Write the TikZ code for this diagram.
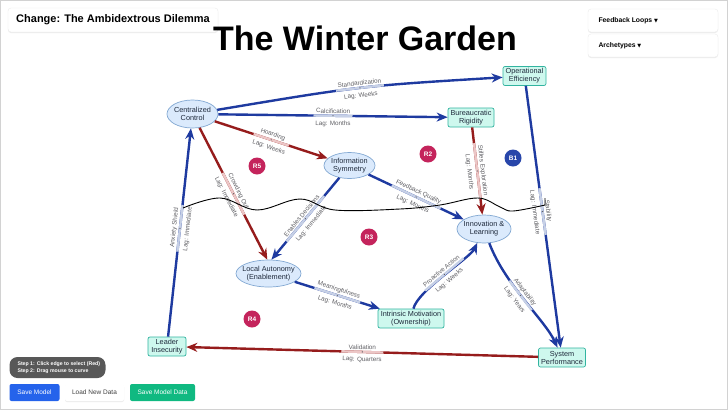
\documentclass[tikz,border=0pt]{standalone}
\usepackage{fontspec}
\setmainfont{Liberation Sans}
\newfontfamily\symfont{DejaVu Sans}
\usetikzlibrary{shapes.geometric,arrows.meta,shadows}

\definecolor{eblue}{RGB}{30,58,160}
\definecolor{ered}{RGB}{150,28,28}
\definecolor{pblue}{RGB}{198,208,230}
\definecolor{pred}{RGB}{236,198,198}
\definecolor{ellfill}{RGB}{219,234,252}
\definecolor{elldraw}{RGB}{130,168,210}
\definecolor{recfill}{RGB}{206,248,238}
\definecolor{recdraw}{RGB}{50,180,160}
\definecolor{lblgray}{RGB}{95,95,100}
\definecolor{ntext}{RGB}{30,41,59}
\definecolor{rbadge}{RGB}{196,36,92}
\definecolor{bbadge}{RGB}{40,70,170}
\definecolor{btnblue}{RGB}{37,99,235}
\definecolor{btngreen}{RGB}{16,185,129}
\definecolor{pillgray}{RGB}{88,88,88}

\begin{document}
\begin{tikzpicture}[x=1pt,y=-1pt,
  ell/.style={ellipse, draw=elldraw, fill=ellfill, line width=0.7pt, inner sep=0pt},
  ntxt/.style={font=\fontsize{7.3}{8}\selectfont, text=ntext, align=center},
  rec/.style={rectangle, rounded corners=2pt, draw=recdraw, fill=recfill, line width=0.7pt, inner sep=0.5pt, font=\fontsize{7.3}{8}\selectfont, text=ntext, align=center},
  bedge/.style={draw=eblue, line width=2.4pt, -{Stealth[length=11pt,width=9pt]}},
  redge/.style={draw=ered, line width=2.4pt, -{Stealth[length=11pt,width=9pt]}},
  bseg/.style={sloped, fill=pblue, inner sep=0pt, minimum height=2.4pt, minimum width=#1},
  rseg/.style={sloped, fill=pred, inner sep=0pt, minimum height=2.4pt, minimum width=#1},
  ldot/.style={sloped, circle, fill=lblgray, inner sep=0pt, minimum size=1.4pt},
  ttl/.style={sloped, above=1pt, inner sep=0.3pt, font=\fontsize{6.3}{7}\selectfont, text=lblgray},
  lag/.style={sloped, below=3.5pt, inner sep=0.3pt, font=\fontsize{6.3}{7}\selectfont, text=lblgray},
  badge/.style={circle, fill=#1, minimum size=17pt, inner sep=0pt, text=white, font=\bfseries\fontsize{6.5}{7}\selectfont},
  uibox/.style={rectangle, rounded corners=3pt, fill=white, draw=gray!15, drop shadow={opacity=0.15, shadow xshift=0pt, shadow yshift=-1pt}},
  btn/.style={rectangle, rounded corners=2pt, minimum height=17pt, inner sep=0pt, font=\fontsize{6.5}{7}\selectfont}
]
\useasboundingbox (0,0) rectangle (728,410);
\fill[white] (0,0) rectangle (728,410);
\draw[gray!35, line width=0.8pt] (0.5,0.5) rectangle (727.5,409.5);

% ---------- UI elements ----------
\node[uibox, minimum width=210pt, minimum height=24pt, font=\bfseries\fontsize{11}{13}\selectfont] (chg) at (113,20) {Change: The Ambidextrous Dilemma};
\node[font=\bfseries\fontsize{34}{40}\selectfont, anchor=base] (title) at (365,50) {The Winter Garden};
\node[uibox, minimum width=130pt, minimum height=23pt] (fbl) at (653,20.5) {};
\node[anchor=west, font=\bfseries\fontsize{6.8}{8}\selectfont] (fblt) at (595,20.5) {Feedback Loops {\symfont\fontsize{5}{6}\selectfont▼}};
\node[uibox, minimum width=130pt, minimum height=23pt] (arc) at (653,45.5) {};
\node[anchor=west, font=\bfseries\fontsize{6.8}{8}\selectfont] (arct) at (595,45.5) {Archetypes {\symfont\fontsize{5}{6}\selectfont▼}};

\node[rectangle, rounded corners=8pt, fill=pillgray, minimum width=96pt, minimum height=21pt] (pill) at (57.5,367.5) {};
\node[anchor=west, text=white, align=left, font=\bfseries\fontsize{5.2}{7}\selectfont] (pillt) at (14,367.5) {Step 1: Click edge to select (Red)\\Step 2: Drag mouse to curve};

\node[btn, fill=btnblue, text=white, minimum width=50pt] (b1) at (34.5,392.5) {Save Model};
\node[btn, fill=white, text=black!75, minimum width=59pt, drop shadow={opacity=0.15, shadow xshift=0pt, shadow yshift=-1pt}] (b2) at (94.5,392.5) {Load New Data};
\node[btn, fill=btngreen, text=white, minimum width=65pt] (b3) at (162.5,392.5) {Save Model Data};

% ---------- model nodes ----------
\node[ell, minimum width=51pt, minimum height=28pt, label={[ntxt]center:{Centralized\\Control}}] (CC) at (192.5,114) {};
\node[ell, minimum width=51pt, minimum height=26pt, label={[ntxt]center:{Information\\Symmetry}}] (IS) at (349.5,165.5) {};
\node[ell, minimum width=65pt, minimum height=27pt, label={[ntxt]center:{Local Autonomy\\(Enablement)}}] (LA) at (268.5,273.5) {};
\node[ell, minimum width=54pt, minimum height=28pt, label={[ntxt]center:{Innovation \&\\Learning}}] (IL) at (484,229) {};

\node[rec, minimum width=43pt, minimum height=19pt] (OE) at (524.5,76) {Operational\\Efficiency};
\node[rec, minimum width=46pt, minimum height=19pt] (BR) at (471,117.5) {Bureaucratic\\Rigidity};
\node[rec, minimum width=66pt, minimum height=19pt] (IM) at (411,318.5) {Intrinsic Motivation\\(Ownership)};
\node[rec, minimum width=38pt, minimum height=19pt] (LI) at (167,346.5) {Leader\\Insecurity};
\node[rec, minimum width=47pt, minimum height=19pt] (SP) at (562,357.5) {System\\Performance};

% ---------- loop badges ----------
\node[badge=rbadge] (R5) at (257,166) {R5};
\node[badge=rbadge] (R2) at (428,154) {R2};
\node[badge=bbadge] (B1) at (513,158) {B1};
\node[badge=rbadge] (R3) at (369,237) {R3};
\node[badge=rbadge] (R4) at (252,319) {R4};

% ---------- edges ----------
\draw[bedge] (CC) .. controls (360,86) .. (OE)
  node[midway,bseg=48pt]{} node[midway,ldot]{}
  node[midway,ttl]{Standardization} node[midway,lag]{Lag: Weeks};
\draw[bedge] (CC) -- (BR)
  node[midway,bseg=39pt]{} node[midway,ldot]{}
  node[midway,ttl]{Calcification} node[midway,lag]{Lag: Months};
\draw[redge] (CC) -- (IS)
  node[midway,rseg=37pt]{} node[midway,ldot]{}
  node[midway,ttl]{Hoarding} node[midway,lag]{Lag: Weeks};
\draw[redge] (CC) -- (LA.95)
  node[midway,rseg=47pt]{} node[midway,ldot]{}
  node[midway,ttl]{Crowding Out} node[midway,lag]{Lag: Immediate};
\draw[bedge] (IS) -- (LA.78)
  node[midway,bseg=59pt]{} node[midway,ldot]{}
  node[midway,ttl]{Enables Decisions} node[midway,lag]{Lag: Immediate};
\draw[bedge] (IS) -- (IL)
  node[midway,bseg=54pt]{} node[midway,ldot]{}
  node[midway,ttl]{Feedback Quality} node[midway,lag]{Lag: Months};
\draw[redge] (BR) -- (IL)
  node[midway,rseg=56pt]{} node[midway,ldot]{}
  node[midway,ttl]{Stifles Exploration} node[midway,lag]{Lag: Months};
\draw[bedge] (OE) -- (SP)
  node[pos=0.48,bseg=47pt]{} node[pos=0.48,ldot]{}
  node[pos=0.48,ttl]{Stability} node[pos=0.48,lag]{Lag: Immediate};
\draw[bedge] (IL) .. controls (505,285) and (545,320) .. (SP)
  node[pos=0.45,bseg=37pt]{} node[pos=0.45,ldot]{}
  node[pos=0.45,ttl]{Adaptability} node[pos=0.45,lag]{Lag: Years};
\draw[bedge] (LA) -- (IM)
  node[midway,bseg=48pt]{} node[midway,ldot]{}
  node[midway,ttl]{Meaningfulness} node[midway,lag]{Lag: Months};
\draw[bedge] (IM) .. controls (418,290) and (470,258) .. (IL)
  node[midway,bseg=50pt]{} node[midway,ldot]{}
  node[midway,ttl]{Proactive Action} node[midway,lag]{Lag: Weeks};
\draw[redge] (SP) -- (LI)
  node[midway,rseg=42pt]{} node[midway,ldot]{}
  node[midway,ttl]{Validation} node[midway,lag]{Lag: Quarters};
\draw[bedge] (LI) -- (CC)
  node[pos=0.52,bseg=47pt]{} node[pos=0.52,ldot]{}
  node[pos=0.52,ttl]{Anxiety Shield} node[pos=0.52,lag]{Lag: Immediate};

% ---------- hand-drawn wavy line ----------
\draw[black, line width=0.9pt] plot[smooth, tension=0.6] coordinates {(183,208) (220,198) (257,210) (300,199) (335,210) (400,209) (440,205) (478,198) (500,207) (513,211) (545,205)} -- (545,198);
\end{tikzpicture}
\end{document}
